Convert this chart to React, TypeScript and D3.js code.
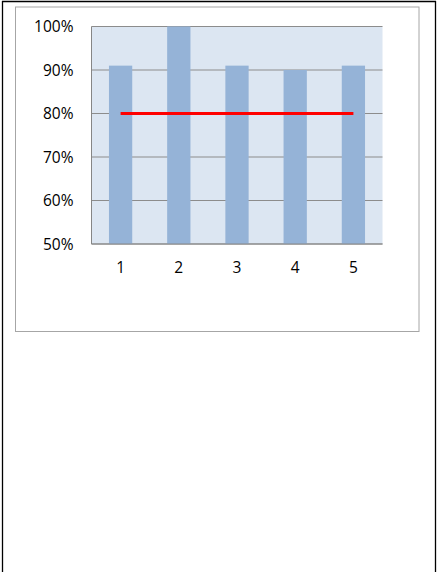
import * as d3 from "d3";

const categories = ["1", "2", "3", "4", "5"];
const barValues = [0.91, 1.0, 0.91, 0.9, 0.91];
const targetValues = [0.8, 0.8, 0.8, 0.8, 0.8];
const yTicks = [0.5, 0.6, 0.7, 0.8, 0.9, 1.0];

export default function App() {
  const width = 437;
  const height = 572;

  // plot area inside the chart box
  const plot = { left: 91.5, right: 382.5, top: 26.5, bottom: 244 };

  const x = d3
    .scaleBand<string>()
    .domain(categories)
    .range([plot.left, plot.right])
    .paddingInner(0.6)
    .paddingOuter(0.3);

  const y = d3.scaleLinear().domain([0.5, 1.0]).range([plot.bottom, plot.top]);

  const fmt = d3.format(".0%");

  const line = d3
    .line<number>()
    .x((_, i) => (x(categories[i]) ?? 0) + x.bandwidth() / 2)
    .y((d) => y(d));

  const font = "'Open Sans', 'Liberation Sans', sans-serif";

  return (
    <svg
      width={width}
      height={height}
      style={{ position: "absolute", left: 0, top: 0, background: "#ffffff" }}
    >
      {/* page frame */}
      <line x1={2} x2={436} y1={1.5} y2={1.5} stroke="#000" strokeWidth={1.3} />
      <line x1={2.5} x2={2.5} y1={1} y2={height} stroke="#000" strokeWidth={1.3} />
      <line x1={435.5} x2={435.5} y1={1} y2={height} stroke="#000" strokeWidth={1.3} />

      {/* chart box */}
      <rect
        x={15.5}
        y={7}
        width={403.5}
        height={324.5}
        fill="#ffffff"
        stroke="#a6a6a6"
        strokeWidth={1}
      />

      {/* plot background */}
      <rect
        x={plot.left}
        y={plot.top}
        width={plot.right - plot.left}
        height={plot.bottom - plot.top}
        fill="#dce6f2"
      />

      {/* gridlines */}
      {yTicks.map((t) => (
        <line
          key={`g-${t}`}
          x1={plot.left}
          x2={plot.right}
          y1={y(t)}
          y2={y(t)}
          stroke="#8c8c8c"
          strokeWidth={1}
        />
      ))}

      {/* bars */}
      {barValues.map((v, i) => (
        <rect
          key={categories[i]}
          x={x(categories[i])}
          y={y(v)}
          width={x.bandwidth()}
          height={plot.bottom - y(v)}
          fill="#95b3d7"
        />
      ))}

      {/* axes */}
      <line
        x1={plot.left}
        x2={plot.left}
        y1={plot.top}
        y2={plot.bottom}
        stroke="#868686"
        strokeWidth={1}
      />
      <line
        x1={plot.left}
        x2={plot.right}
        y1={plot.bottom}
        y2={plot.bottom}
        stroke="#868686"
        strokeWidth={1}
      />

      {/* target line */}
      <path d={line(targetValues) ?? ""} fill="none" stroke="#ff0000" strokeWidth={3} />

      {/* y tick labels */}
      {yTicks.map((t) => (
        <text
          key={`y-${t}`}
          x={73.5}
          y={y(t) + 5.5}
          textAnchor="end"
          fontFamily={font}
          fontSize={15.5}
          fill="#000"
        >
          {fmt(t)}
        </text>
      ))}

      {/* x tick labels */}
      {categories.map((c) => (
        <text
          key={`x-${c}`}
          x={(x(c) ?? 0) + x.bandwidth() / 2}
          y={273}
          textAnchor="middle"
          fontFamily={font}
          fontSize={15.5}
          fill="#000"
        >
          {c}
        </text>
      ))}
    </svg>
  );
}
